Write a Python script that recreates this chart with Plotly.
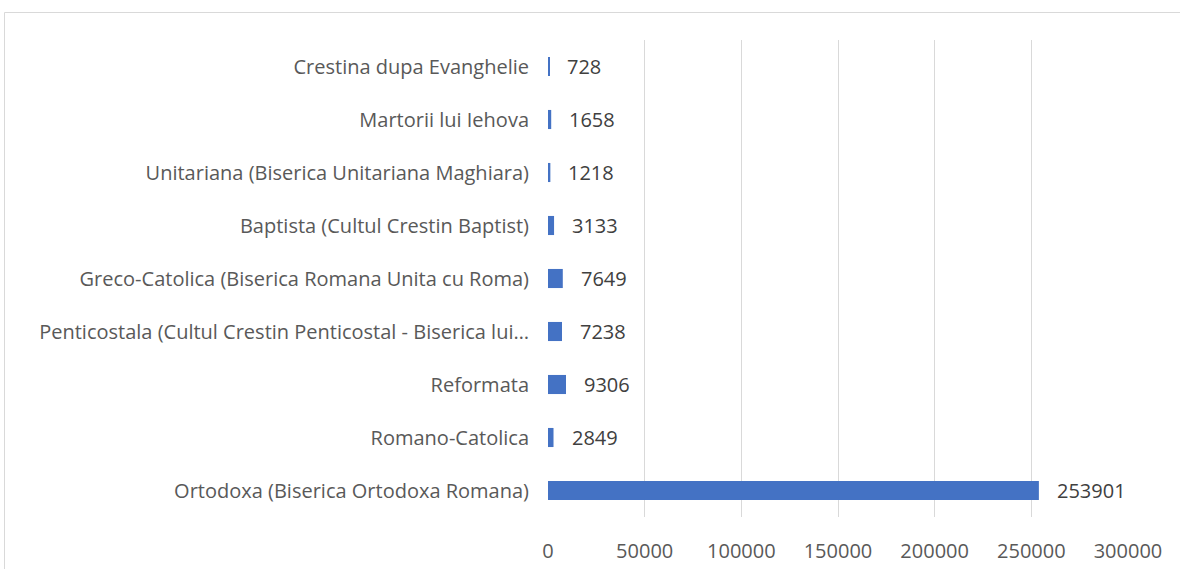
import plotly.graph_objects as go

categories = [
    "Ortodoxa (Biserica Ortodoxa Romana)",
    "Romano-Catolica",
    "Reformata",
    "Penticostala (Cultul Crestin Penticostal - Biserica lui…",
    "Greco-Catolica (Biserica Romana Unita cu Roma)",
    "Baptista (Cultul Crestin Baptist)",
    "Unitariana (Biserica Unitariana Maghiara)",
    "Martorii lui Iehova",
    "Crestina dupa Evanghelie",
]
values = [253901, 2849, 9306, 7238, 7649, 3133, 1218, 1658, 728]
x_ticks = [0, 50000, 100000, 150000, 200000, 250000, 300000]

W, H = 1180, 569
L, T = 548, 40
pw, ph = 580, 477
R, B = W - L - pw, H - T - ph

FONT = "Open Sans"

fig = go.Figure(go.Bar(
    x=values, y=categories, orientation="h",
    marker=dict(color="#4472C4", line=dict(width=0)),
    hoverinfo="x+y",
))

for v, c in zip(values, categories):
    fig.add_annotation(x=v, y=c, text=str(v), showarrow=False,
                       xanchor="left", xshift=16,
                       font=dict(family=FONT, size=20, color="#404040"))

fig.add_shape(type="rect", xref="paper", yref="paper",
              x0=(4.5 - L) / pw, x1=1.3, y0=-0.3,
              y1=1 + (T - 12.5) / ph,
              line=dict(color="#D9D9D9", width=1), fillcolor="rgba(0,0,0,0)",
              layer="below")

fig.update_layout(
    width=W, height=H,
    margin=dict(l=L, r=R, t=T, b=B, pad=0, autoexpand=False),
    paper_bgcolor="white", plot_bgcolor="white",
    bargap=0.64,
    showlegend=False,
    font=dict(family=FONT, size=19, color="#595959"),
    xaxis=dict(range=[0, 300000], tickvals=x_ticks, ticktext=[str(t) for t in x_ticks],
               showgrid=True, gridcolor="#D9D9D9", gridwidth=1,
               zeroline=False, showline=False, ticks="",
               ticklabelstandoff=20,
               tickfont=dict(family=FONT, size=20, color="#595959")),
    yaxis=dict(showgrid=False, zeroline=False, showline=False, ticks="",
               ticklabelstandoff=18,
               tickfont=dict(family=FONT, size=20, color="#595959")),
)

fig.write_html("out.html",
               config={"displayModeBar": False},
               post_script="document.body.style.margin='0';document.body.style.overflow='hidden';")
